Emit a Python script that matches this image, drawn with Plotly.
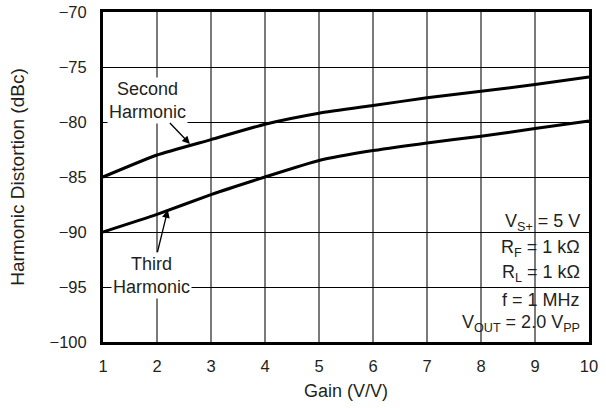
import plotly.graph_objects as go

gain = [1, 2, 3, 4, 5, 6, 7, 8, 9, 10]
second_harmonic = [-85.0, -83.0, -81.6, -80.2, -79.2, -78.5, -77.8, -77.2, -76.6, -75.9]
third_harmonic = [-90.0, -88.4, -86.6, -85.0, -83.5, -82.6, -81.9, -81.3, -80.6, -79.9]
x_ticks = [1, 2, 3, 4, 5, 6, 7, 8, 9, 10]
y_ticks = [-100, -95, -90, -85, -80, -75, -70]
conditions = [
    "V<sub>S+</sub> = 5 V",
    "R<sub>F</sub> = 1 kΩ",
    "R<sub>L</sub> = 1 kΩ",
    "f = 1 MHz",
    "V<sub>OUT</sub> = 2.0 V<sub>PP</sub>",
]
condition_y = [-89.1, -91.5, -93.8, -96.2, -98.3]

FONT = "Liberation Sans, Arial, sans-serif"
TXT = "#231f20"

fig = go.Figure()
for series in (second_harmonic, third_harmonic):
    fig.add_trace(go.Scatter(x=gain, y=series, mode="lines",
                             line=dict(color="black", width=3, shape="spline", smoothing=0.5),
                             showlegend=False, hoverinfo="skip"))

# white box behind the conditions text
fig.add_shape(type="rect", xref="paper", yref="paper", x0=0.776, x1=0.988, y0=0.015, y1=0.406,
              fillcolor="white", line=dict(width=0), layer="between")

for txt, yy in zip(conditions, condition_y):
    fig.add_annotation(x=0.986, xref="paper", y=yy, yref="y", text=txt, showarrow=False,
                       xanchor="right", yanchor="middle", align="right",
                       font=dict(family=FONT, size=18, color=TXT))

fig.add_annotation(x=2.61, y=-82.0, text="Second<br>Harmonic", showarrow=True,
                   ax=-42, ay=-44, arrowhead=2, arrowsize=1.2, arrowwidth=1.3, arrowcolor="black",
                   standoff=0, bgcolor="white", borderpad=1,
                   font=dict(family=FONT, size=18, color=TXT))
fig.add_annotation(x=2.2, y=-88.0, text="Third<br>Harmonic", showarrow=True,
                   ax=-16, ay=65, arrowhead=2, arrowsize=1.2, arrowwidth=1.3, arrowcolor="black",
                   standoff=0, bgcolor="white", borderpad=1,
                   font=dict(family=FONT, size=18, color=TXT))

fig.update_xaxes(range=[1, 10], tickvals=x_ticks, showgrid=True, gridcolor="#7a7a7a", gridwidth=2,
                 showline=True, linecolor="black", linewidth=3, mirror=True, automargin=False,
                 ticks="outside", ticklen=7, tickcolor="rgba(0,0,0,0)",
                 tickfont=dict(family=FONT, size=16.5, color=TXT), zeroline=False,
                 title=dict(text="Gain (V/V)", font=dict(family=FONT, size=18, color=TXT), standoff=11))
fig.update_yaxes(range=[-100, -70], tickvals=y_ticks, showgrid=True, gridcolor="black", gridwidth=1,
                 showline=True, linecolor="black", linewidth=3, mirror=True, automargin=False,
                 ticks="outside", ticklen=10, tickcolor="rgba(0,0,0,0)",
                 tickfont=dict(family=FONT, size=16.5, color=TXT), zeroline=False,
                 title=dict(text="Harmonic Distortion (dBc)", font=dict(family=FONT, size=19, color=TXT), standoff=20))

fig.update_layout(width=606, height=408, margin=dict(l=103, r=17, t=12, b=66),
                  plot_bgcolor="white", paper_bgcolor="white")

fig.write_html("out.html", config={"displayModeBar": False},
               post_script="document.body.style.margin='0';")
